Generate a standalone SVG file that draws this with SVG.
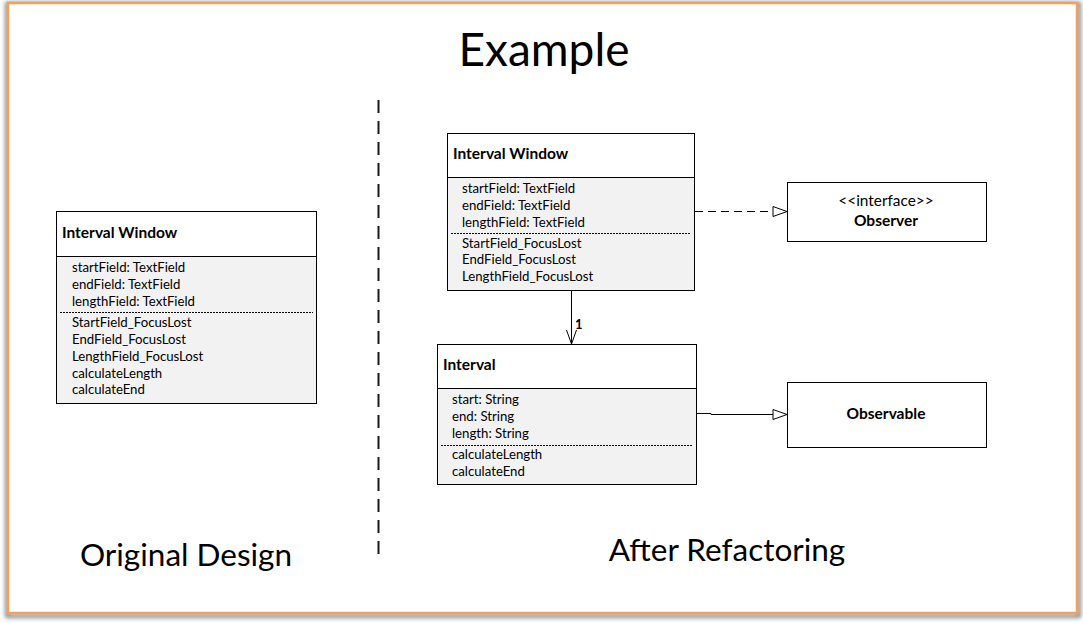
<svg xmlns="http://www.w3.org/2000/svg" width="1083" height="623" viewBox="0 0 1083 623">
<defs>
<filter id="sh" x="-5%" y="-5%" width="110%" height="110%">
<feGaussianBlur stdDeviation="2"/>
</filter>
<marker id="tri" viewBox="0 0 16 12" refX="15" refY="6" markerWidth="16" markerHeight="12" markerUnits="userSpaceOnUse" orient="auto">
<path d="M1,1 L15,6 L1,11 Z" fill="#fff" stroke="#000" stroke-width="1"/>
</marker>
<marker id="open" viewBox="0 0 16 12" refX="15" refY="6" markerWidth="16" markerHeight="12" markerUnits="userSpaceOnUse" orient="auto">
<path d="M1,1 L15,6 L1,11" fill="none" stroke="#000" stroke-width="1"/>
</marker>
</defs>
<style>
.t{font-family:Lato,"Open Sans","Liberation Sans",sans-serif;fill:#000}
.big{font-size:46px}
.lbl{font-size:31.5px}
.hd{font-size:15.5px;font-weight:bold}
.it{font-size:13.2px}
.box{fill:#fff;stroke:#000;stroke-width:1}
.body{fill:#f2f2f2;stroke:#000;stroke-width:1}
.dot{stroke:#000;stroke-width:1;stroke-dasharray:2 1}
.ln{stroke:#000;stroke-width:1;fill:none}
</style>
<rect x="0" y="0" width="1083" height="623" fill="#fff"/>
<rect x="7" y="3" width="1072" height="612" fill="none" stroke="#888" stroke-width="4" filter="url(#sh)" transform="translate(0,1)"/>
<rect x="8" y="3" width="1069" height="610" fill="#fff" stroke="#f5a05a" stroke-width="2.5"/>

<text class="t big" x="544" y="66" text-anchor="middle">Example</text>
<text class="t lbl" x="186" y="566" text-anchor="middle">Original Design</text>
<text class="t lbl" x="727" y="561" text-anchor="middle">After Refactoring</text>
<line x1="378.5" y1="100" x2="378.5" y2="558" stroke="#1a1a1a" stroke-width="2" stroke-dasharray="13 8"/>

<g id="orig-interval-window">
<rect class="box" x="56.5" y="211.5" width="260" height="45"/>
<rect class="body" x="56.5" y="256.5" width="260" height="147"/>
<text class="t hd" x="62" y="238">Interval Window</text>
<text class="t it" x="72" y="272">startField: TextField</text>
<text class="t it" x="72" y="289">endField: TextField</text>
<text class="t it" x="72" y="306">lengthField: TextField</text>
<line class="dot" x1="60" y1="312.5" x2="313" y2="312.5"/>
<text class="t it" x="72" y="327">StartField_FocusLost</text>
<text class="t it" x="72" y="344">EndField_FocusLost</text>
<text class="t it" x="72" y="361">LengthField_FocusLost</text>
<text class="t it" x="72" y="378">calculateLength</text>
<text class="t it" x="72" y="394">calculateEnd</text>
</g>

<g id="interval-window">
<rect class="box" x="447.5" y="133.5" width="247" height="44"/>
<rect class="body" x="447.5" y="177.5" width="247" height="113"/>
<text class="t hd" x="453" y="159">Interval Window</text>
<text class="t it" x="462" y="193">startField: TextField</text>
<text class="t it" x="462" y="210">endField: TextField</text>
<text class="t it" x="462" y="227">lengthField: TextField</text>
<line class="dot" x1="451" y1="233.5" x2="691" y2="233.5"/>
<text class="t it" x="462" y="248">StartField_FocusLost</text>
<text class="t it" x="462" y="264">EndField_FocusLost</text>
<text class="t it" x="462" y="281">LengthField_FocusLost</text>
</g>

<g id="interval">
<rect class="box" x="437.5" y="344.5" width="259" height="44"/>
<rect class="body" x="437.5" y="388.5" width="259" height="96"/>
<text class="t hd" x="443" y="370">Interval</text>
<text class="t it" x="452" y="404">start: String</text>
<text class="t it" x="452" y="421">end: String</text>
<text class="t it" x="452" y="438">length: String</text>
<line class="dot" x1="441" y1="445.5" x2="693" y2="445.5"/>
<text class="t it" x="452" y="459">calculateLength</text>
<text class="t it" x="452" y="476">calculateEnd</text>
</g>

<g id="observer">
<rect class="box" x="787.5" y="182.5" width="199" height="59"/>
<text class="t it" x="886" y="206" text-anchor="middle" style="font-size:15.4px">&lt;&lt;interface&gt;&gt;</text>
<text class="t hd" x="886" y="226" text-anchor="middle">Observer</text>
</g>

<g id="observable">
<rect class="box" x="787.5" y="382.5" width="199" height="65"/>
<text class="t hd" x="886" y="419" text-anchor="middle">Observable</text>
</g>

<g id="connectors">
<line class="ln" x1="695" y1="211.5" x2="787" y2="211.5" stroke-dasharray="8 5" marker-end="url(#tri)"/>
<path class="ln" d="M697,413.5 H711 V414.5 H787" marker-end="url(#tri)"/>
<line class="ln" x1="571.5" y1="291" x2="571.5" y2="344" marker-end="url(#open)"/>
<text class="t hd" x="575" y="329" style="font-size:13px">1</text>
</g>
</svg>
